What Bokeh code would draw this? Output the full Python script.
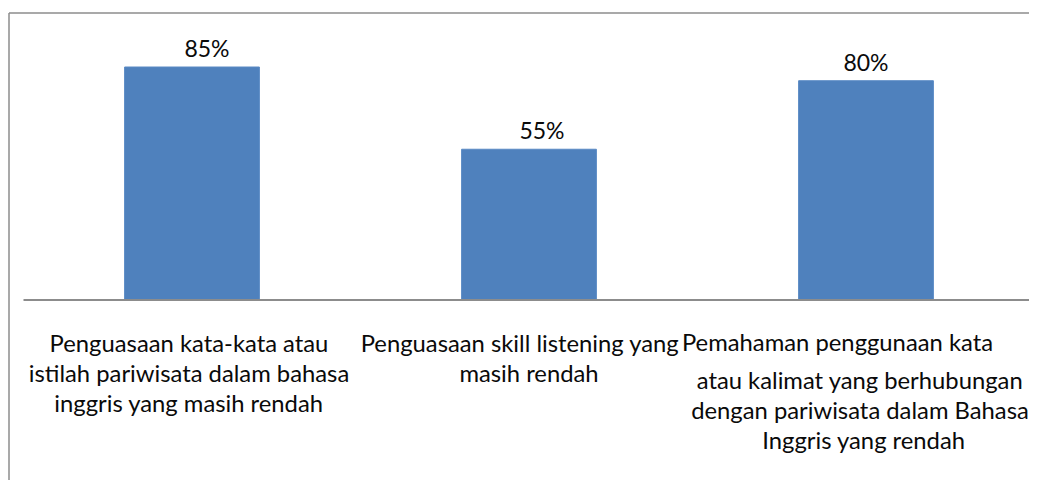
from bokeh.plotting import figure
from bokeh.models import ColumnDataSource, Range1d
from bokeh.core.properties import value
from bokeh.embed import file_html
from bokeh.resources import INLINE

# ---- data ----
values = [85, 55, 80]
value_labels = ["85%", "55%", "80%"]
category_lines = [
    ["Penguasaan kata-kata atau", "istilah pariwisata dalam bahasa", "inggris yang masih rendah"],
    ["Penguasaan skill listening yang", "masih rendah"],
    ["Pemahaman penggunaan kata", "atau kalimat yang berhubungan",
     "dengan pariwisata dalam Bahasa", "Inggris yang rendah"],
]

# ---- layout / style ----
W, H = 1029, 480
PX_PER_CAT = 337.0
CENTER0 = 191.5          # canvas px of first category centre
BASE_Y = 299.5           # canvas px of value 0
PX_PER_PCT = 233.0 / 85.0
FONT = "Lato"
FS = "23.8px"
VFS = "23px"
TXT = "#0a0a0a"
GRAY = "#8c8c8c"
BAR = "#4F81BD"

# per-line pixel offsets (dx, dy below baseline)
line_offsets = [
    [(-3, 43), (-3, 73), (-3, 103)],
    [(-9, 43), (0, 73)],
    [(-28.5, 42), (-6, 80), (-6, 110), (-2, 140)],
]
value_dx = [15, 13, 0]

x_start = -CENTER0 / PX_PER_CAT
x_end = x_start + W / PX_PER_CAT
y_top = BASE_Y / PX_PER_PCT
y_bottom = -(H - BASE_Y) / PX_PER_PCT

p = figure(width=W, height=H, x_range=Range1d(x_start, x_end),
           y_range=Range1d(y_bottom, y_top), x_axis_type=None, y_axis_type=None,
           output_backend="svg", toolbar_location=None, min_border=0)
p.grid.visible = False
p.outline_line_color = None
p.background_fill_color = "white"
p.border_fill_color = "white"

xs = list(range(len(values)))
src = ColumnDataSource(dict(x=xs, top=values, lab=value_labels, dx=value_dx))
p.vbar(x="x", top="top", bottom=0, width=0.4, source=src, fill_color=BAR,
       line_color="#5a8ac4", line_width=1)

p.text(x="x", y="top", text="lab", x_offset="dx", y_offset=-19, source=src,
       text_align="center", text_baseline="alphabetic",
       text_font=value(FONT), text_font_size=VFS, text_color=TXT)

# axis line across category band
p.segment(x0=[-0.5], y0=[0], x1=[len(values) - 0.5], y1=[0], line_color=GRAY, line_width=2)

# category labels
cx, cy, ct, cdx, cdy = [], [], [], [], []
for i, lines in enumerate(category_lines):
    for j, t in enumerate(lines):
        dx, dy = line_offsets[i][j]
        cx.append(i); cy.append(0); ct.append(t); cdx.append(dx); cdy.append(dy)
csrc = ColumnDataSource(dict(x=cx, y=cy, t=ct, dx=cdx, dy=cdy))
p.text(x="x", y="y", text="t", x_offset="dx", y_offset="dy", source=csrc,
       text_align="center", text_baseline="alphabetic",
       text_font=value(FONT), text_font_size=FS, text_color=TXT)

# chart border (top and left edges visible)
bx = x_start + 8.5 / PX_PER_CAT
by = y_top - 12.5 / PX_PER_PCT
p.segment(x0=[bx, bx], y0=[by, by], x1=[x_end, bx], y1=[by, y_bottom],
          line_color=GRAY, line_width=1.5)

open("out.html", "w").write(file_html(p, INLINE))
